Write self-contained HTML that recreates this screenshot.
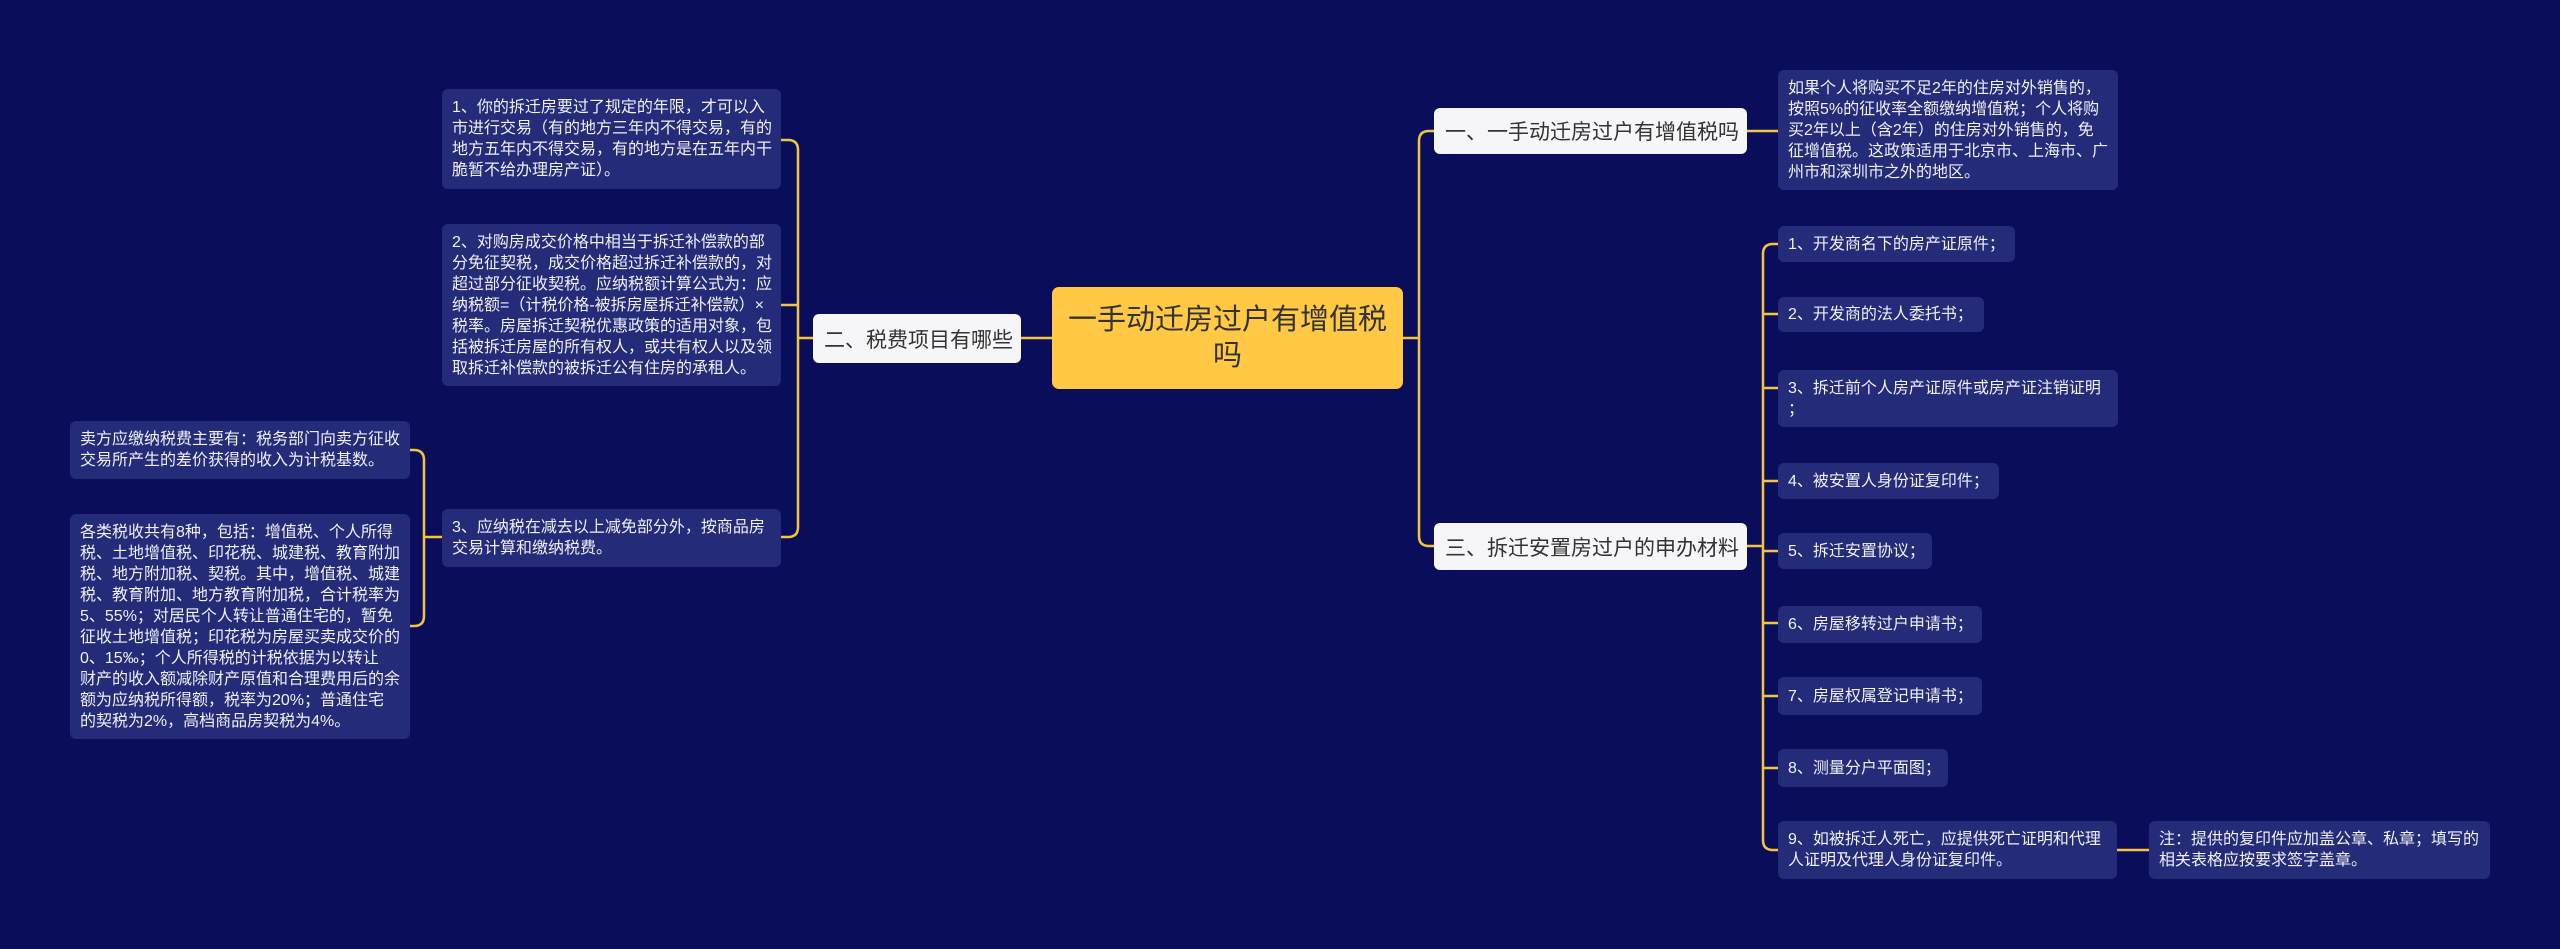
<!DOCTYPE html>
<html><head><meta charset="utf-8"><style>
*{margin:0;padding:0;box-sizing:border-box}
body{width:2560px;height:949px;background:#0a0e5a;position:relative;overflow:hidden;font-family:"Liberation Sans","Noto Sans CJK SC",sans-serif}
.n{position:absolute;display:flex;align-items:center;white-space:nowrap}
.c{background:#ffc845;color:#333;font-size:29px;line-height:36px;border-radius:7px;justify-content:center;text-align:center}
.s{background:#f6f6f8;color:#333;font-size:21px;border-radius:6px;padding-left:11px}
.l{background:#242b78;color:#f0f0f5;font-size:16px;line-height:21px;border-radius:6px;padding:0 10px}
svg{position:absolute;left:0;top:0}
</style></head><body>
<svg width="2560" height="949" fill="none" stroke="#f2c440" stroke-width="2.5">
<!-- center to right -->
<path d="M1403 338 H1419 M1419 338 V141 Q1419 131 1429 131 H1434 M1419 338 V536 Q1419 546 1429 546 H1434"/>
<!-- 一 to leaf -->
<path d="M1747 131 H1778"/>
<!-- 三 to items -->
<path d="M1747 546 H1763 M1763 546 V254 Q1763 244 1773 244 H1778
M1763 314 Q1763 314 1778 314 M1763 388 Q1763 388 1778 388 M1763 481 H1778 M1763 551 H1778 M1763 623 H1778 M1763 696 H1778 M1763 768 H1778
M1763 546 V840 Q1763 850 1773 850 H1778"/>
<path d="M2117 850 H2149"/>
<!-- center to 二 -->
<path d="M1052 338 H1021"/>
<!-- 二 to left -->
<path d="M813 338 H798 M798 338 V150 Q798 140 788 140 H781 M798 305 H781 M798 338 V527 Q798 537 788 537 H781"/>
<!-- L3 to LL -->
<path d="M442 537 H424 M424 537 V460 Q424 450 414 450 H410 M424 537 V616 Q424 626 414 626 H410"/>
</svg>

<div class="n c" style="left:1052px;top:287px;width:351px;height:102px">一手动迁房过户有增值税<br>吗</div>
<div class="n s" style="left:813px;top:314px;width:208px;height:49px">二、税费项目有哪些</div>
<div class="n s" style="left:1434px;top:108px;width:313px;height:46px">一、一手动迁房过户有增值税吗</div>
<div class="n s" style="left:1434px;top:523px;width:313px;height:47px">三、拆迁安置房过户的申办材料</div>

<div class="n l" style="left:1778px;top:70px;width:340px;height:120px">如果个人将购买不足2年的住房对外销售的，<br>按照5%的征收率全额缴纳增值税；个人将购<br>买2年以上（含2年）的住房对外销售的，免<br>征增值税。这政策适用于北京市、上海市、广<br>州市和深圳市之外的地区。</div>

<div class="n l" style="left:1778px;top:226px;width:237px;height:36px">1、开发商名下的房产证原件；</div>
<div class="n l" style="left:1778px;top:297px;width:206px;height:35px">2、开发商的法人委托书；</div>
<div class="n l" style="left:1778px;top:370px;width:340px;height:57px">3、拆迁前个人房产证原件或房产证注销证明<br>；</div>
<div class="n l" style="left:1778px;top:463px;width:221px;height:36px">4、被安置人身份证复印件；</div>
<div class="n l" style="left:1778px;top:533px;width:154px;height:36px">5、拆迁安置协议；</div>
<div class="n l" style="left:1778px;top:606px;width:204px;height:37px">6、房屋移转过户申请书；</div>
<div class="n l" style="left:1778px;top:677px;width:204px;height:38px">7、房屋权属登记申请书；</div>
<div class="n l" style="left:1778px;top:749px;width:170px;height:38px">8、测量分户平面图；</div>
<div class="n l" style="left:1778px;top:821px;width:339px;height:58px">9、如被拆迁人死亡，应提供死亡证明和代理<br>人证明及代理人身份证复印件。</div>
<div class="n l" style="left:2149px;top:821px;width:341px;height:58px">注：提供的复印件应加盖公章、私章；填写的<br>相关表格应按要求签字盖章。</div>

<div class="n l" style="left:442px;top:89px;width:339px;height:100px">1、你的拆迁房要过了规定的年限，才可以入<br>市进行交易（有的地方三年内不得交易，有的<br>地方五年内不得交易，有的地方是在五年内干<br>脆暂不给办理房产证）。</div>
<div class="n l" style="left:442px;top:224px;width:339px;height:162px">2、对购房成交价格中相当于拆迁补偿款的部<br>分免征契税，成交价格超过拆迁补偿款的，对<br>超过部分征收契税。应纳税额计算公式为：应<br>纳税额=（计税价格-被拆房屋拆迁补偿款）×<br>税率。房屋拆迁契税优惠政策的适用对象，包<br>括被拆迁房屋的所有权人，或共有权人以及领<br>取拆迁补偿款的被拆迁公有住房的承租人。</div>
<div class="n l" style="left:442px;top:509px;width:339px;height:58px">3、应纳税在减去以上减免部分外，按商品房<br>交易计算和缴纳税费。</div>
<div class="n l" style="left:70px;top:421px;width:340px;height:58px">卖方应缴纳税费主要有：税务部门向卖方征收<br>交易所产生的差价获得的收入为计税基数。</div>
<div class="n l" style="left:70px;top:514px;width:340px;height:225px">各类税收共有8种，包括：增值税、个人所得<br>税、土地增值税、印花税、城建税、教育附加<br>税、地方附加税、契税。其中，增值税、城建<br>税、教育附加、地方教育附加税，合计税率为<br>5、55%；对居民个人转让普通住宅的，暂免<br>征收土地增值税；印花税为房屋买卖成交价的<br>0、15‰；个人所得税的计税依据为以转让<br>财产的收入额减除财产原值和合理费用后的余<br>额为应纳税所得额，税率为20%；普通住宅<br>的契税为2%，高档商品房契税为4%。</div>
</body></html>
